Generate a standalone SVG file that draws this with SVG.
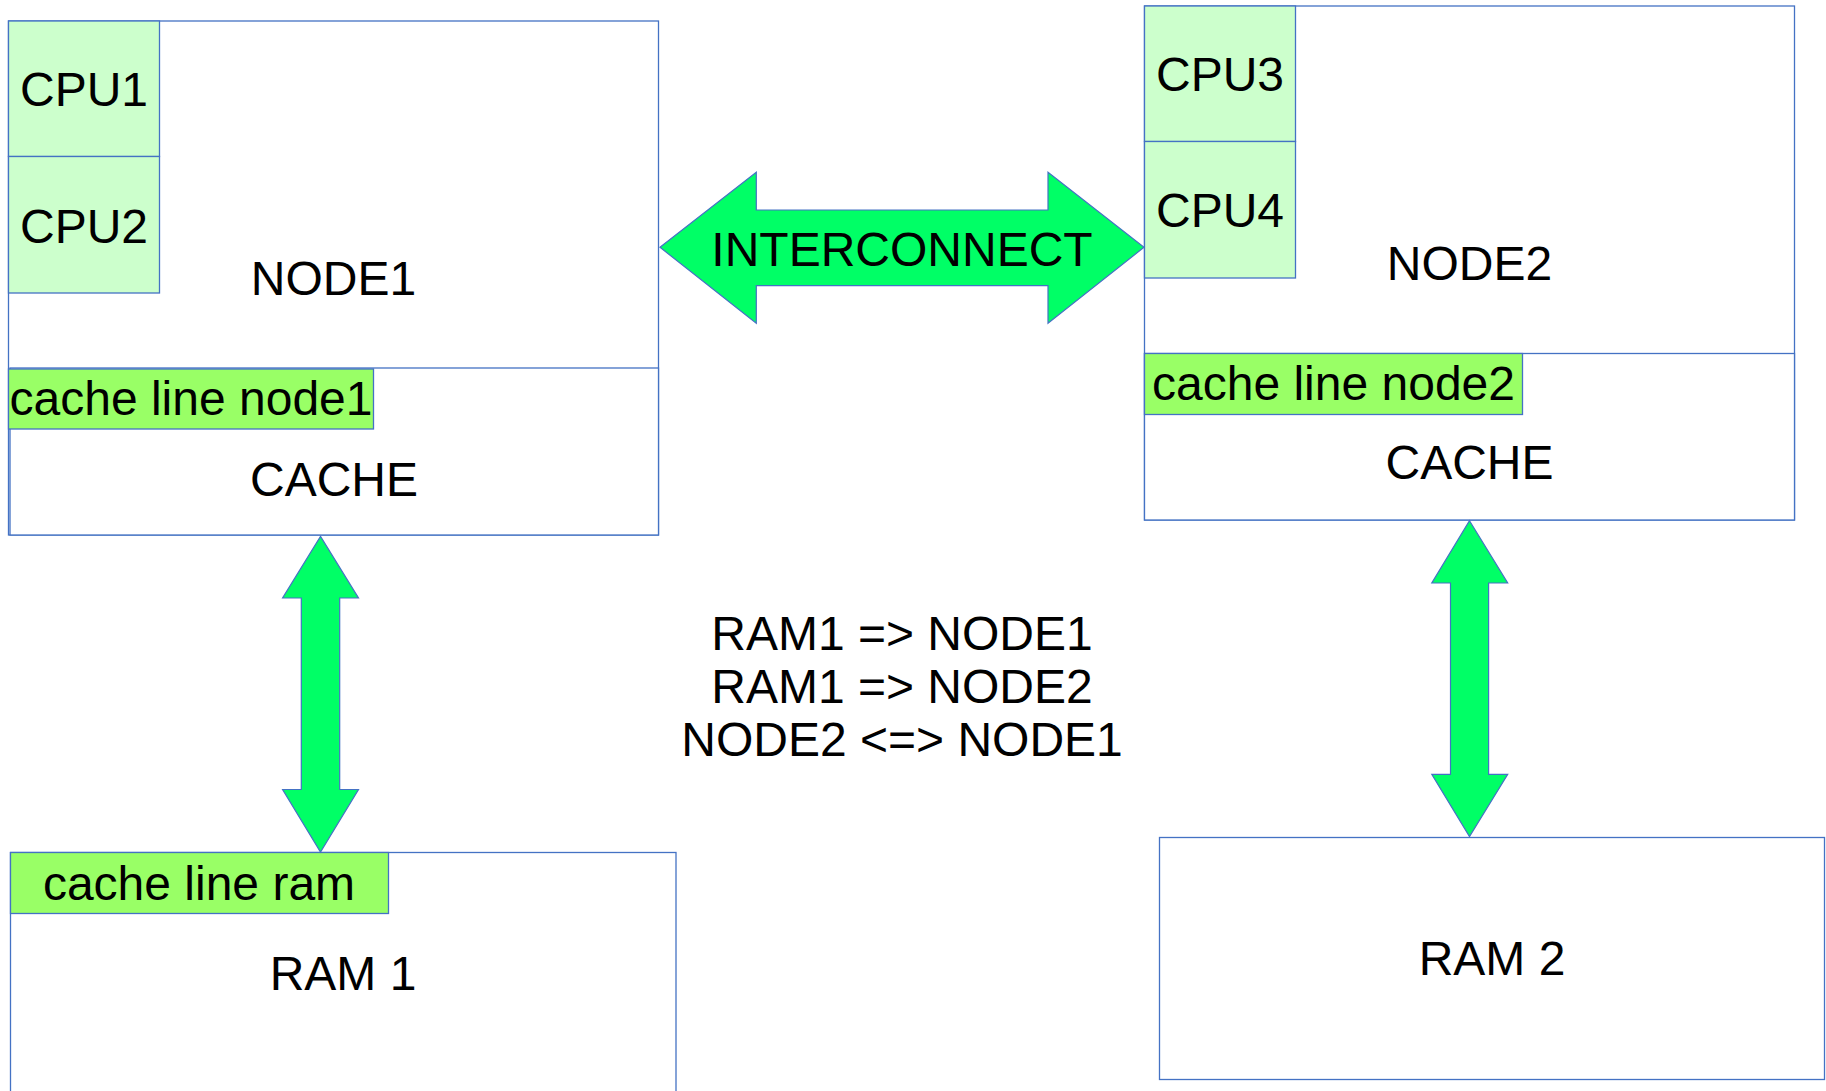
<svg xmlns="http://www.w3.org/2000/svg" width="1826" height="1091" viewBox="0 0 1826 1091">
  <style>
    .box { fill: #ffffff; stroke: #4472c4; stroke-width: 1.3; }
    .cpu { fill: #ccffcc; stroke: #4472c4; stroke-width: 1.3; }
    .line { fill: #99ff66; stroke: #4472c4; stroke-width: 1.3; }
    .arrow { fill: #00ff66; stroke: #4472c4; stroke-width: 1.2; stroke-linejoin: miter; }
    text { font-family: "Liberation Sans", Arial, sans-serif; font-size: 48px; fill: #000000; text-anchor: middle; }
  </style>
  <rect width="1826" height="1091" fill="#ffffff"/>

  <!-- NUMA node 1 -->
  <g id="node1">
    <rect class="box" x="8.5" y="21" width="650" height="514"/>
    <rect class="box" x="10" y="368" width="648.5" height="167"/>
    <text x="333.5" y="295">NODE1</text>
    <text x="334" y="496">CACHE</text>
  </g>
  <g id="cpu1">
    <rect class="cpu" x="8.5" y="21" width="151" height="135.5"/>
    <text x="84" y="106">CPU1</text>
  </g>
  <g id="cpu2">
    <rect class="cpu" x="8.5" y="156.5" width="151" height="136.5"/>
    <text x="84" y="243">CPU2</text>
  </g>
  <g id="cacheline-node1">
    <rect class="line" x="8.5" y="369" width="365" height="60"/>
    <text x="191" y="415">cache line node1</text>
  </g>

  <!-- NUMA node 2 -->
  <g id="node2">
    <rect class="box" x="1144.5" y="6" width="650" height="514"/>
    <rect class="box" x="1144.5" y="353.5" width="650" height="166.5"/>
    <text x="1469.5" y="280">NODE2</text>
    <text x="1469.5" y="479">CACHE</text>
  </g>
  <g id="cpu3">
    <rect class="cpu" x="1144.5" y="6" width="151" height="135.5"/>
    <text x="1220" y="91">CPU3</text>
  </g>
  <g id="cpu4">
    <rect class="cpu" x="1144.5" y="141.5" width="151" height="136.5"/>
    <text x="1220" y="227">CPU4</text>
  </g>
  <g id="cacheline-node2">
    <rect class="line" x="1144.5" y="353.5" width="378" height="61"/>
    <text x="1333.5" y="400">cache line node2</text>
  </g>

  <!-- Memory banks -->
  <g id="ram1">
    <rect class="box" x="10.5" y="852.5" width="665.5" height="250"/>
    <text x="343" y="990">RAM 1</text>
  </g>
  <g id="cacheline-ram">
    <rect class="line" x="10.5" y="852.5" width="378" height="61"/>
    <text x="199" y="900">cache line ram</text>
  </g>
  <g id="ram2">
    <rect class="box" x="1159.5" y="837.5" width="665" height="242"/>
    <text x="1492" y="975">RAM 2</text>
  </g>

  <!-- Links between nodes and memory -->
  <g id="connectors">
    <polygon class="arrow" points="660,247.3 756.3,172.3 756.3,210 1048,210 1048,172.3 1144,247.3 1048,323.3 1048,285.7 756.3,285.7 756.3,323.3"/>
    <polygon class="arrow" points="320.5,536.4 358.5,598 339.7,598 339.7,789.5 358.5,789.5 320.5,852.1 282.6,789.5 301.3,789.5 301.3,598 282.6,598"/>
    <polygon class="arrow" points="1469.5,520.7 1507.7,583 1488.6,583 1488.6,774.4 1507.7,774.4 1469.5,836.6 1431.8,774.4 1450.5,774.4 1450.5,583 1431.8,583"/>
  </g>
  <g id="interconnect-label">
    <text x="902" y="265.5">INTERCONNECT</text>
  </g>

  <!-- Access paths -->
  <g id="legend">
    <text x="902" y="650">RAM1 =&gt; NODE1</text>
    <text x="902" y="703">RAM1 =&gt; NODE2</text>
    <text x="902" y="755.5">NODE2 &lt;=&gt; NODE1</text>
  </g>
</svg>
